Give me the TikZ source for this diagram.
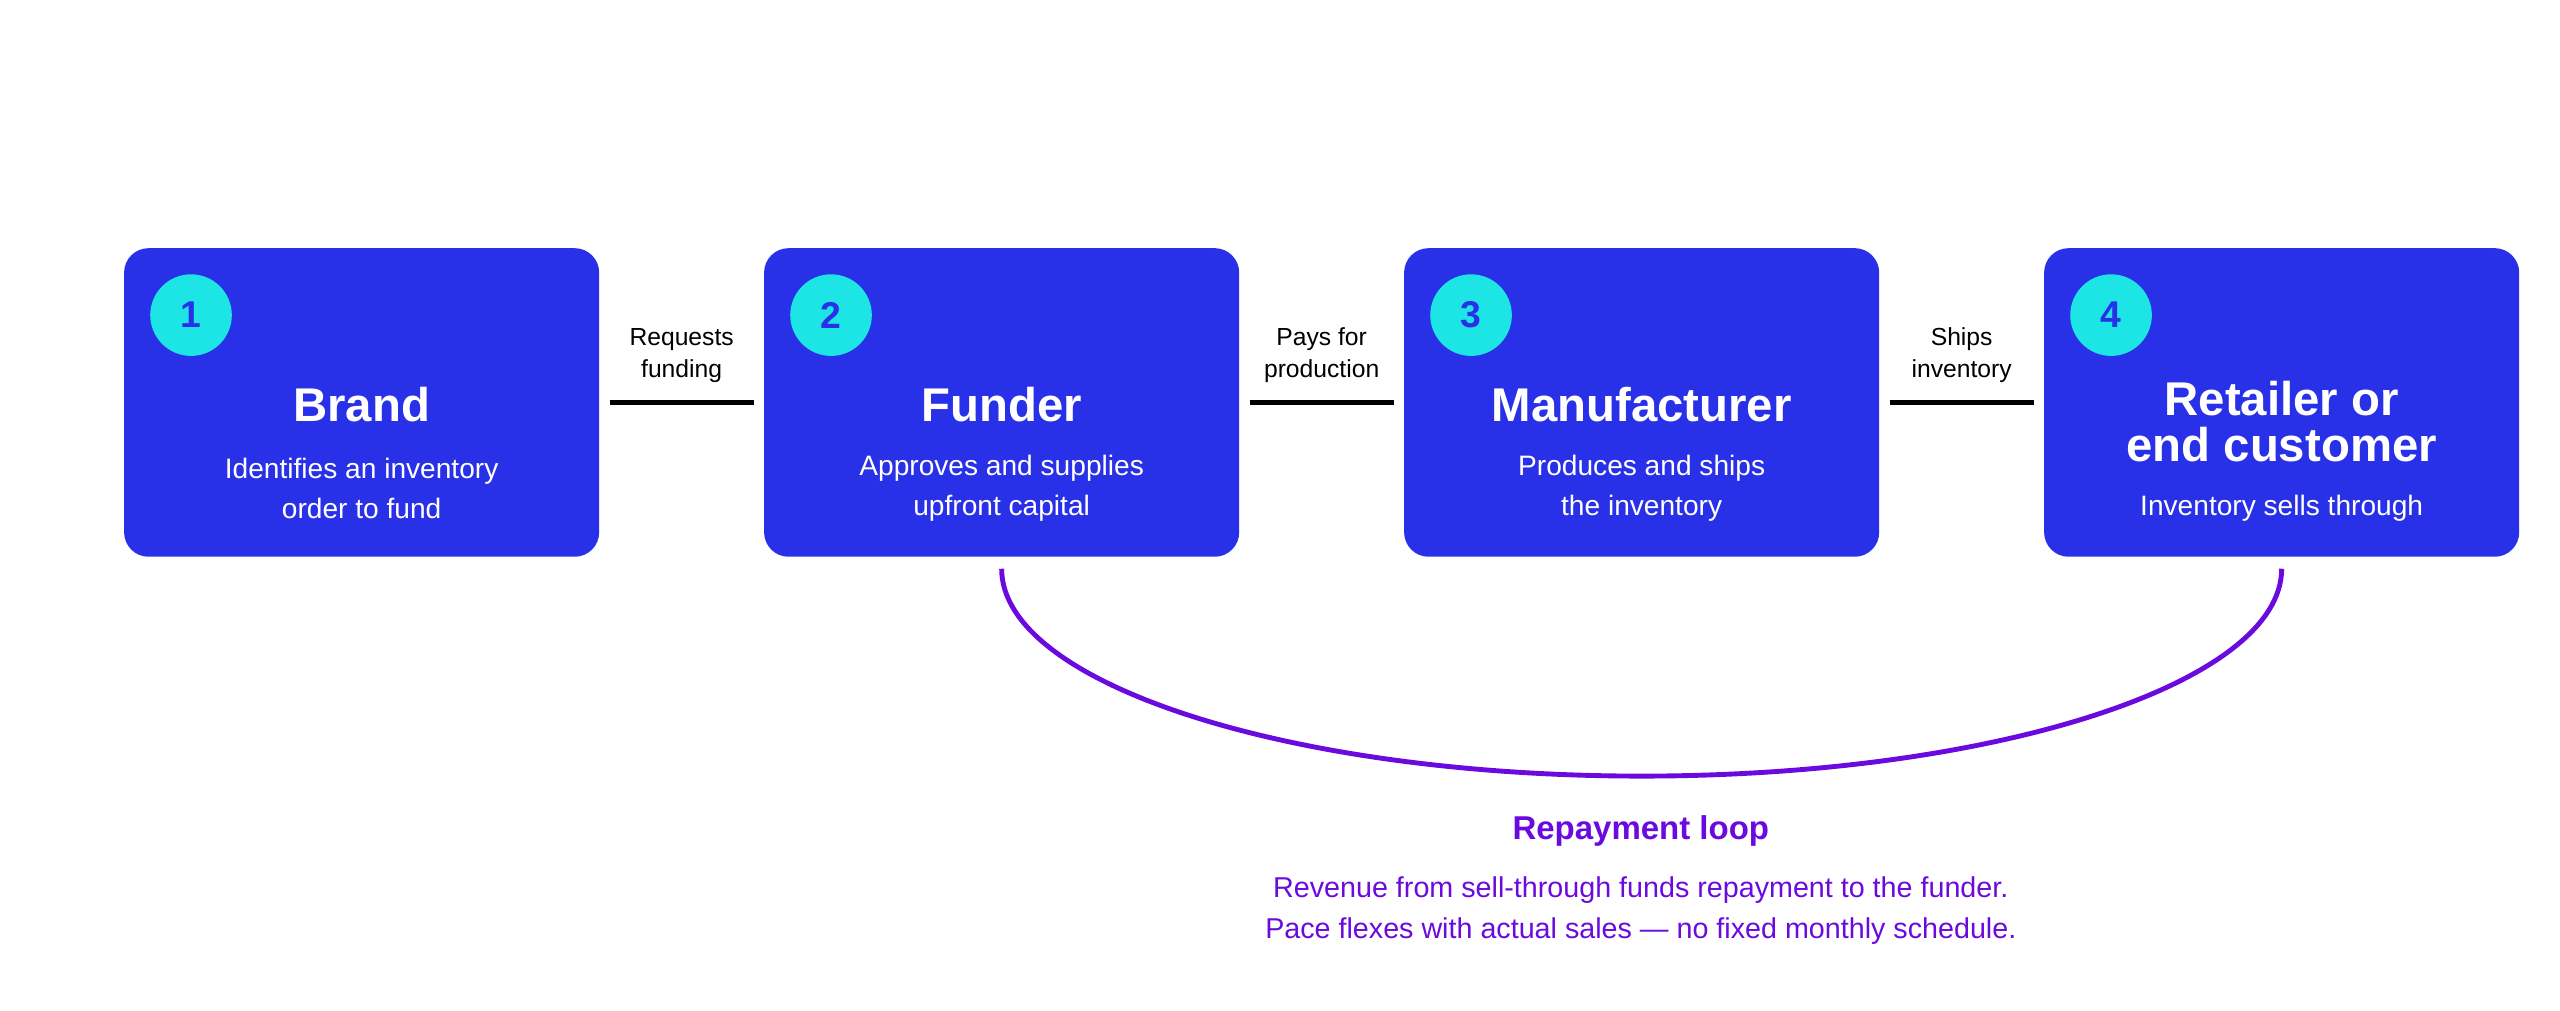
\documentclass[tikz,border=0pt]{standalone}
\usepackage{fontspec}
\setmainfont{Liberation Sans}
\usetikzlibrary{positioning}
\definecolor{boxblue}{HTML}{2830E8}
\definecolor{badgecyan}{HTML}{1DE5E5}
\definecolor{loopviolet}{HTML}{6A0ADF}
\begin{document}
\begin{tikzpicture}[
    stagebox/.style={rectangle, fill=boxblue, rounded corners=0.3cm, minimum width=5.82cm, minimum height=3.78cm},
    badge/.style={circle, fill=badgecyan, minimum size=1cm, inner sep=0pt, text=boxblue, font=\bfseries\fontsize{13}{15}\selectfont},
    titletext/.style={text=white, align=center, font=\bfseries\fontsize{16.5}{16}\selectfont},
    subtext/.style={text=white, align=center, font=\fontsize{9.8}{14}\selectfont},
    linklabel/.style={align=center, font=\fontsize{8.6}{11}\selectfont},
    linkstyle/.style={line width=1.7pt, shorten <=0.12cm, shorten >=0.12cm}
]
    \useasboundingbox (0,0) rectangle (31.36,-12.38);

    \node[stagebox] (brand) at (4.43,-4.93) {};
    \node[stagebox] (funder) at (12.27,-4.93) {};
    \node[stagebox] (maker) at (20.11,-4.93) {};
    \node[stagebox] (retail) at (27.95,-4.93) {};

    \node[badge] (b1) at ([shift={(-2.09,1.07)}]brand.center) {1};
    \node[badge] (b2) at ([shift={(-2.09,1.07)}]funder.center) {2};
    \node[badge] (b3) at ([shift={(-2.09,1.07)}]maker.center) {3};
    \node[badge] (b4) at ([shift={(-2.09,1.07)}]retail.center) {4};

    \node[titletext] (t1) at ([yshift=-0.03cm]brand.center) {Brand};
    \node[titletext] (t2) at ([yshift=-0.03cm]funder.center) {Funder};
    \node[titletext] (t3) at ([yshift=-0.03cm]maker.center) {Manufacturer};
    \node[titletext] (t4) at ([yshift=-0.23cm]retail.center) {Retailer or\\end customer};

    \node[subtext] (s1) at ([yshift=-1.05cm]brand.center) {Identifies an inventory\\order to fund};
    \node[subtext] (s2) at ([yshift=-1.05cm]funder.center) {Approves and supplies\\upfront capital};
    \node[subtext] (s3) at ([yshift=-1.05cm]maker.center) {Produces and ships\\the inventory};
    \node[subtext] (s4) at ([yshift=-1.29cm]retail.center) {Inventory sells through};

    \draw[linkstyle] (brand) -- (funder) node[midway, above=0.1cm, linklabel] (l1) {Requests\\funding};
    \draw[linkstyle] (funder) -- (maker) node[midway, above=0.1cm, linklabel] (l2) {Pays for\\production};
    \draw[linkstyle] (maker) -- (retail) node[midway, above=0.1cm, linklabel] (l3) {Ships\\inventory};

    % repayment loop
    \coordinate (loopstart) at ([yshift=-0.14cm]funder.south);
    \draw[loopviolet, line width=1.7pt] (loopstart) arc[start angle=180, end angle=360, x radius=7.84cm, y radius=2.54cm];
    \node[text=loopviolet, font=\bfseries\fontsize{11.5}{14}\selectfont] (looptitle) at (20.1,-10.18) {Repayment loop};
    \node[text=loopviolet, align=center, font=\fontsize{10}{14.4}\selectfont, below=0.12cm of looptitle] (loopnote) {Revenue from sell-through funds repayment to the funder.\\Pace flexes with actual sales — no fixed monthly schedule.};
\end{tikzpicture}
\end{document}
